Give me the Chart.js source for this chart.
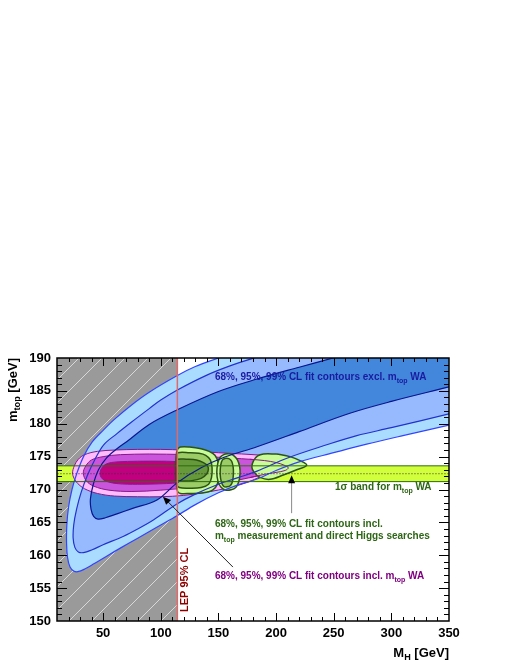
<!DOCTYPE html>
<html>
<head>
<meta charset="utf-8">
<script src="https://cdn.jsdelivr.net/npm/chart.js@4.4.0/dist/chart.umd.min.js"></script>
<style>
  html, body { margin: 0; padding: 0; background: #fff; }
  canvas { display: block; }
</style>
</head>
<body>
<canvas id="chart" width="510" height="660"></canvas>
<script>
// axis ranges and labelled ticks
const xRange = [10, 350];
const yRange = [150, 190];
const xTicks = [50, 100, 150, 200, 250, 300, 350];
const yTicks = [150, 155, 160, 165, 170, 175, 180, 185, 190];

// LEP direct search limit on M_H
const lepLimit = 114.4;
// m_top world average: central, low, high
const mtopWA = [172.4, 171.2, 173.6];

// fit contours excl. m_top WA, [M_H, m_top]
const blue99 = [[200,193.5],[175,191.6],[150,190],[130,188.7],[114,187.3],[90,184.8],[75,182.9],[60,180.7],[50,179.0],[40.4,177.2],[33,175.0],[27.3,172.5],[23,170],[20,167.3],[18.5,164.5],[18.3,161.8],[19.2,159.6],[21.3,158.2],[24.5,157.6],[28,157.5],[34,157.9],[42,158.7],[53.4,159.9],[66,161.2],[80,162.6],[95,164.1],[108,165.4],[114,166.0],[130,167.7],[150,169.5],[167,170.7],[183.5,171.6],[200,172.9],[220,174.2],[250,175.6],[278.6,176.9],[310,178.2],[350,179.8],[370,180.6],[380,197],[205,197]];
const blue95 = [[250,193.5],[230,192.5],[205,191.3],[180.6,190],[160,188.8],[140,187.4],[114,185.1],[100,183.6],[90,182.3],[75,180.3],[62,178.5],[50.5,176.8],[43,174.6],[36.5,172.2],[31,169.6],[27,167],[24.5,164.6],[24,162.6],[25.5,161.2],[28.5,160.5],[33,160.4],[40,160.8],[50,161.6],[67.8,162.9],[80,164],[93.9,165.4],[114,167.8],[130,169.3],[150,170.8],[167,171.8],[183.5,172.8],[210,174.8],[243.9,176.8],[270,178.2],[300,179.4],[350,181.5],[370,182.3],[380,197],[255,197]];
const blue68 = [[290,193],[270,191],[249.4,190],[220,188.6],[183.5,186.8],[150,184.9],[114,182.1],[90,179.9],[70.7,177.3],[62,176.2],[53,174.8],[46,173],[41.5,170.8],[39,168.6],[39.5,167],[41.8,165.9],[45.5,165.5],[52,165.7],[62,166.3],[75,167.1],[96.7,168.4],[114,171],[135,173.3],[155,174.9],[183.5,176.5],[220,178.8],[264,181.6],[300,183.4],[350,185.6],[370,186.5],[380,196],[295,196]];

// fit contours incl. m_top WA
const pink99 = [[100,176.1],[120,176.0],[140,175.7],[160,175.5],[180,175.3],[200,175.0],[213,174.3],[221,173.4],[215,173.0],[205,172.6],[195,172.2],[186,171.9],[177,171.2],[160,170.3],[140,169.6],[120,169.1],[100,168.9],[80,168.9],[60,169.0],[45,169.4],[34,170.1],[28,170.9],[24.8,171.7],[23.5,172.5],[25,173.6],[28.5,174.6],[34,175.3],[45,175.8],[60,176.0],[80,176.1],[100,176.1]];
const pink95 = [[90,175.4],[120,175.3],[150,174.9],[177,174.6],[190,174.4],[200,174.1],[207,173.7],[210.6,173.3],[208,172.9],[200,172.6],[190,172.3],[177,171.8],[160,171.2],[130,170.4],[100,169.9],[75,169.7],[55,169.9],[42,170.5],[35.5,171.3],[32.8,172.5],[35,173.6],[40,174.5],[50,175.0],[65,175.3],[90,175.4]];
const pink95Tail = [[177,174.6],[190,174.4],[200,174.1],[207,173.7],[210.6,173.3],[208,172.9],[200,172.6],[190,172.3],[177,171.8]];
const pink68 = [[80,174.3],[105,174.3],[125,174.1],[140,173.6],[146,172.8],[142,171.9],[125,171.2],[105,170.9],[80,170.8],[62,170.9],[52,171.3],[48.5,171.8],[47.3,172.4],[48.5,173.2],[53,173.9],[62,174.2],[80,174.3]];

// fit contours incl. m_top and direct Higgs searches
const green1_99 = [[113.4,173],[113.5,175.2],[114.5,176.1],[117,176.45],[125,176.45],[135,176.2],[142,175.8],[147,175.2],[150,174],[150.5,172.5],[149,170.8],[145,169.9],[137,169.5],[125,169.4],[117,169.4],[114.6,169.7],[113.6,170.6],[113.4,173]];
const green1_95 = [[113.4,173],[113.5,175],[115,175.6],[125,175.6],[133,175.5],[139,175.2],[143,174.5],[144.5,173.3],[144,171.8],[141.5,170.8],[135,170.3],[125,170.2],[116,170.3],[113.7,170.8],[113.4,173]];
const green1_68 = [[113.4,173],[113.5,174.2],[114.8,174.6],[122,174.6],[131,174.5],[137,174.1],[140.5,173.6],[141.3,173.1],[140,172.4],[135,171.7],[127,171.35],[118,171.3],[114.3,171.4],[113.5,172],[113.4,173]];
const green2_99 = [[159,175.45],[163,175.2],[166.5,174.5],[168.5,173.4],[168.7,172.3],[167.5,171.1],[165,170.3],[161,169.95],[156.5,169.9],[152.5,170.3],[149.7,171.2],[148.6,172.6],[149.5,174.0],[151.5,174.9],[155,175.35],[159,175.45]];
const green2_95 = [[156,174.75],[159,174.7],[161.5,174.3],[162.8,173.4],[163,172.4],[162.3,171.3],[160.5,170.6],[157.5,170.4],[154.5,170.5],[152.5,171.2],[151.5,172.4],[152,173.7],[153.5,174.5],[156,174.75]];
const green3_99 = [[200.5,175.4],[212.1,175.0],[220.8,174.4],[226.6,173.7],[217.9,173.0],[206.3,172.2],[194.7,171.55],[186.1,171.85],[181,172.6],[179,173.4],[180.5,174.4],[184,175.1],[189,175.4],[200.5,175.4]];

const pts = a => a.map(([x, y]) => ({ x, y }));

function hatch() {
  const s = 23;
  const c = document.createElement('canvas');
  c.width = s; c.height = s;
  const g = c.getContext('2d');
  g.fillStyle = '#9a9a9a';
  g.fillRect(0, 0, s, s);
  g.strokeStyle = '#d8d8d8';
  g.lineWidth = 1;
  g.beginPath();
  g.moveTo(-2, s + 2); g.lineTo(s + 2, -2);
  g.stroke();
  return g.createPattern(c, 'repeat');
}

function area(data, color, border, width) {
  return {
    data: pts(data), showLine: true, fill: 'shape',
    backgroundColor: color, borderColor: border || 'rgba(0,0,0,0)',
    borderWidth: width || 0, pointRadius: 0, tension: 0.35
  };
}
function line(data, color, width, dash) {
  return {
    data: pts(data), showLine: true, fill: false,
    borderColor: color, borderWidth: width, borderDash: dash || [],
    pointRadius: 0, tension: 0.35
  };
}

const dkGreen = '#2b5414';
const purpleLine = '#86198a';

const layers = [
  Object.assign(area([[xRange[0], yRange[1]], [lepLimit, yRange[1]], [lepLimit, yRange[0]], [xRange[0], yRange[0]]], hatch()), { tension: 0 }),
  area(blue99, '#aadcff'),
  area(blue95, '#97baff'),
  area(blue68, '#4287dc'),
  Object.assign(area([[0, mtopWA[2]], [360, mtopWA[2]], [360, mtopWA[1]], [0, mtopWA[1]]], '#d2ff3c'), { tension: 0 }),
  area(pink99, '#ffbcfa', purpleLine, 1),
  area(pink95, '#ca55dc', purpleLine, 1),
  area(pink68, '#c0007e', purpleLine, 1),
  area(green1_99, '#c9fb98', dkGreen, 1.5),
  area(green1_95, '#9ccc66', dkGreen, 1.5),
  area(green1_68, '#66993a', dkGreen, 1.5),
  area(green2_99, '#c9fb98', dkGreen, 1.5),
  area(green2_95, '#9ccc66', dkGreen, 1.5),
  area(green3_99, '#c9fb98', dkGreen, 1.5),
  line(pink95Tail, purpleLine, 1),
  line(blue99, '#3344ff', 1.2),
  line(blue95, '#2232cc', 1.2),
  line(blue68, '#0b1590', 1.2),
  Object.assign(line([[0, mtopWA[2]], [360, mtopWA[2]]], '#2f6a10', 1), { tension: 0 }),
  Object.assign(line([[0, mtopWA[1]], [360, mtopWA[1]]], '#2f6a10', 1), { tension: 0 }),
  Object.assign(line([[0, mtopWA[0]], [360, mtopWA[0]]], '#333', 1, [1, 2]), { tension: 0 }),
  Object.assign(line([[lepLimit, yRange[0]], [lepLimit, yRange[1]]], '#e06a6a', 1.5), { tension: 0 })
];
layers.forEach((d, i) => { d.order = layers.length - i; });

const FONT = "'Liberation Sans', Arial, Helvetica, sans-serif";

function rich(ctx, x, y, parts, size, color, align) {
  ctx.fillStyle = color;
  ctx.textBaseline = 'alphabetic';
  ctx.textAlign = 'left';
  let w = 0;
  parts.forEach(([t, sub]) => {
    ctx.font = 'bold ' + (sub ? size * 0.7 : size) + 'px ' + FONT;
    w += ctx.measureText(t).width;
  });
  let cx = align === 'right' ? x - w : x;
  parts.forEach(([t, sub]) => {
    ctx.font = 'bold ' + (sub ? size * 0.7 : size) + 'px ' + FONT;
    ctx.fillText(t, cx, sub ? y + size * 0.3 : y);
    cx += ctx.measureText(t).width;
  });
}

function arrow(ctx, x1, y1, x2, y2, color) {
  const ang = Math.atan2(y2 - y1, x2 - x1);
  const L = 8, W = 3.5;
  ctx.strokeStyle = color;
  ctx.lineWidth = 1;
  ctx.beginPath();
  ctx.moveTo(x1, y1);
  ctx.lineTo(x2 - Math.cos(ang) * L * 0.8, y2 - Math.sin(ang) * L * 0.8);
  ctx.stroke();
  ctx.fillStyle = '#000';
  ctx.beginPath();
  ctx.moveTo(x2, y2);
  ctx.lineTo(x2 - L * Math.cos(ang) + W * Math.sin(ang), y2 - L * Math.sin(ang) - W * Math.cos(ang));
  ctx.lineTo(x2 - L * Math.cos(ang) - W * Math.sin(ang), y2 - L * Math.sin(ang) + W * Math.cos(ang));
  ctx.closePath();
  ctx.fill();
}

const decor = {
  id: 'decor',
  afterDatasetsDraw(chart) {
    const { ctx, chartArea: a, scales: { x, y } } = chart;
    const X = v => x.getPixelForValue(v);
    const Y = v => y.getPixelForValue(v);
    ctx.save();

    // inward ticks on all four sides
    ctx.strokeStyle = '#000';
    ctx.lineWidth = 1;
    ctx.beginPath();
    for (let v = 20; v < xRange[1]; v += 10) {
      const px = Math.round(X(v)) + 0.5;
      const len = v % 50 === 0 ? 8 : 4;
      ctx.moveTo(px, a.bottom); ctx.lineTo(px, a.bottom - len);
      ctx.moveTo(px, a.top); ctx.lineTo(px, a.top + len);
    }
    for (let v = yRange[0] + 1; v < yRange[1]; v += 1) {
      const py = Math.round(Y(v)) + 0.5;
      const len = v % 5 === 0 ? 10 : 5;
      ctx.moveTo(a.left, py); ctx.lineTo(a.left + len, py);
      ctx.moveTo(a.right, py); ctx.lineTo(a.right - len, py);
    }
    ctx.stroke();
    ctx.lineWidth = 1.5;
    ctx.strokeRect(a.left, a.top, a.right - a.left, a.bottom - a.top);

    // arrows
    arrow(ctx, X(162.6), Y(158.2), X(101.9), Y(168.9), '#222');
    arrow(ctx, X(213.5), Y(166.4), X(213.5), Y(172.15), '#8a8a8a');

    // annotations
    rich(ctx, X(147), Y(186.65), [['68%, 95%, 99% CL fit contours excl. m'], ['top', 1], [' WA']], 10, '#1b1ba0');
    rich(ctx, X(251.1), Y(169.92), [['1\u03c3 band for m'], ['top', 1], [' WA']], 10, '#2d6614');
    rich(ctx, X(147), Y(164.3), [['68%, 95%, 99% CL fit contours incl.']], 10, '#2d6614');
    rich(ctx, X(147), Y(162.47), [['m'], ['top', 1], [' measurement and direct Higgs searches']], 10, '#2d6614');
    rich(ctx, X(147), Y(156.39), [['68%, 95%, 99% CL fit contours incl. m'], ['top', 1], [' WA']], 10, '#800080');

    ctx.save();
    ctx.translate(X(123.6), Y(151.37));
    ctx.rotate(-Math.PI / 2);
    rich(ctx, 0, 0, [['LEP 95% CL']], 11, '#8c0000');
    ctx.restore();

    // axis titles
    ctx.save();
    ctx.translate(16.5, a.top);
    ctx.rotate(-Math.PI / 2);
    rich(ctx, 0, 0, [['m'], ['top', 1], [' [GeV]']], 13, '#000', 'right');
    ctx.restore();
    rich(ctx, a.right, 656.5, [['M'], ['H', 1], [' [GeV]']], 13, '#000', 'right');

    ctx.restore();
  }
};

new Chart(document.getElementById('chart'), {
  type: 'scatter',
  data: { datasets: layers },
  options: {
    responsive: false,
    animation: false,
    events: [],
    layout: { padding: { top: 358, right: 61, left: 0, bottom: 0 } },
    elements: { line: { capBezierPoints: false } },
    plugins: { legend: { display: false }, tooltip: { enabled: false } },
    scales: {
      x: {
        type: 'linear', min: xRange[0], max: xRange[1],
        afterBuildTicks: s => { s.ticks = xTicks.map(v => ({ value: v })); },
        afterFit: s => { s.height = 39; },
        grid: { display: false, drawTicks: false },
        border: { display: false },
        ticks: { autoSkip: false, maxRotation: 0, padding: 5, color: '#000', font: { family: FONT, size: 13, weight: 'bold' } }
      },
      y: {
        type: 'linear', min: yRange[0], max: yRange[1],
        afterBuildTicks: s => { s.ticks = yTicks.map(v => ({ value: v })); },
        afterFit: s => { s.width = 57; },
        grid: { display: false, drawTicks: false },
        border: { display: false },
        ticks: { autoSkip: false, padding: 6, color: '#000', font: { family: FONT, size: 13, weight: 'bold' } }
      }
    }
  },
  plugins: [decor]
});
</script>
</body>
</html>
